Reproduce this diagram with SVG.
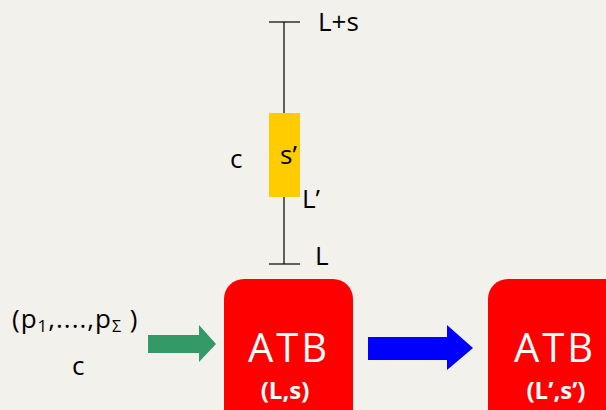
<svg xmlns="http://www.w3.org/2000/svg" width="606" height="410" viewBox="0 0 606 410">
<style>
.t{font-family:"Open Sans","Noto Sans","DejaVu Sans",sans-serif;fill:#000;font-size:26px}
.atb{font-family:"Comic Sans MS","Open Sans","DejaVu Sans",sans-serif;fill:#fff;font-size:40px;letter-spacing:3px;text-anchor:middle}
.sub{font-family:"Open Sans","Noto Sans","DejaVu Sans",sans-serif;fill:#fff;font-size:24px;font-weight:bold;text-anchor:middle}
.ln{stroke:#000;stroke-width:1.2;fill:none}
</style>
<rect width="606" height="410" fill="#f2f1eb"/>
<g id="scale">
<line class="ln" x1="284" y1="22" x2="284" y2="264"/>
<line class="ln" x1="269" y1="22" x2="300" y2="22"/>
<line class="ln" x1="269" y1="264" x2="300" y2="264"/>
<rect x="269" y="113" width="31" height="84" fill="#ffcc00"/>
<text class="t" x="318" y="31">L+s</text>
<text class="t" x="230" y="168">c</text>
<text class="t" x="280" y="164">s’</text>
<text class="t" x="302" y="208">L’</text>
<text class="t" x="315" y="265">L</text>
</g>
<g id="input">
<text class="t" x="12" y="328" letter-spacing="1">(p<tspan font-size="17" dy="4">1</tspan><tspan dy="-4">,....,p</tspan><tspan font-size="16" dy="4">Σ</tspan><tspan dy="-4"> )</tspan></text>
<text class="t" x="72" y="375">c</text>
</g>
<g id="connectors">
<polygon points="148,335 199,335 199,325 216,344 199,362 199,353 148,353" fill="#339966"/>
<polygon points="368,337 447,337 447,325 473,348 447,370 447,360 368,360" fill="#0000ff"/>
</g>
<g id="atb1">
<rect x="224" y="279" width="129" height="150" rx="20" fill="#ff0000"/>
<text class="atb" x="289" y="362">ATB</text>
<text class="sub" x="285" y="399">(L,s)</text>
</g>
<g id="atb2">
<rect x="488" y="279" width="140" height="150" rx="20" fill="#ff0000"/>
<text class="atb" x="555" y="362">ATB</text>
<text class="sub" x="556" y="399">(L’,s’)</text>
</g>
</svg>
